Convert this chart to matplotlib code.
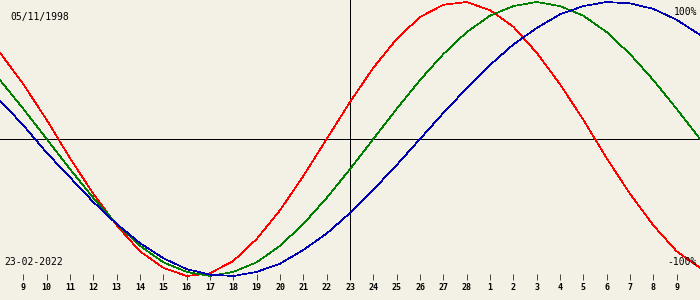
import matplotlib
matplotlib.use("Agg")
import matplotlib.pyplot as plt

# Day offsets relative to the chart date (23-02-2022)
day_offsets = list(range(-15, 16))

# Values (fraction of 100%) at each day
physical = [0.63, 0.40, 0.14, -0.14, -0.40, -0.63, -0.82, -0.94, -1.00, -0.98,
            -0.89, -0.73, -0.52, -0.27, 0.00, 0.27, 0.52, 0.73, 0.89, 0.98,
            1.00, 0.94, 0.82, 0.63, 0.40, 0.14, -0.14, -0.40, -0.63, -0.82, -0.94]
emotional = [0.43, 0.22, 0.00, -0.22, -0.43, -0.62, -0.78, -0.90, -0.97, -1.00,
             -0.97, -0.90, -0.78, -0.62, -0.43, -0.22, 0.00, 0.22, 0.43, 0.62,
             0.78, 0.90, 0.97, 1.00, 0.97, 0.90, 0.78, 0.62, 0.43, 0.22, 0.00]
intellectual = [0.28, 0.10, -0.10, -0.28, -0.46, -0.62, -0.76, -0.87, -0.95, -0.99,
                -1.00, -0.97, -0.91, -0.81, -0.69, -0.54, -0.37, -0.19, 0.00, 0.19,
                0.37, 0.54, 0.69, 0.81, 0.91, 0.97, 1.00, 0.99, 0.95, 0.87, 0.76]

tick_days = list(range(-14, 15))
tick_labels = ["9", "10", "11", "12", "13", "14", "15", "16", "17", "18", "19",
               "20", "21", "22", "23", "24", "25", "26", "27", "28",
               "1", "2", "3", "4", "5", "6", "7", "8", "9"]

birth_text = "05/11/1998"
date_text = "23-02-2022"

bg = "#f3f0e5"
fig = plt.figure(figsize=(7, 3), dpi=100, facecolor=bg)
ax = fig.add_axes([0, 20 / 300, 1, 280 / 300])
ax.set_facecolor(bg)

ax.set_xlim(-15, 15)
ax.set_ylim((139 - 280) / 137, 139 / 137)

lw = 0.5
ax.axhline(0, color="black", lw=lw, antialiased=False)
ax.axvline(0, color="black", lw=lw, antialiased=False)

ax.plot(day_offsets, physical, color="#ff0000", lw=lw, antialiased=False)
ax.plot(day_offsets, emotional, color="#008000", lw=lw, antialiased=False)
ax.plot(day_offsets, intellectual, color="#0000b0", lw=lw, antialiased=False)

for s in ax.spines.values():
    s.set_visible(False)
ax.set_yticks([])
ax.set_xticks(tick_days)
ax.set_xticklabels(tick_labels, fontfamily="DejaVu Sans Mono", fontsize=6,
                   fontweight="bold")
ax.tick_params(axis="x", direction="in", length=4.3, width=0.5, color="black",
               pad=2.5)

tf = dict(fontfamily="DejaVu Sans Mono", fontsize=7, color="black",
          transform=ax.transAxes, va="center")
ax.text(10 / 700, 1 - 17 / 280, birth_text, ha="left", **tf)
ax.text(4 / 700, 1 - 262 / 280, date_text, ha="left", **tf)
ax.text(697 / 700, 1 - 12 / 280, "100%", ha="right", **tf)
ax.text(697 / 700, 1 - 262 / 280, "-100%", ha="right", **tf)

fig.savefig("out.png", dpi=100, facecolor=bg)
